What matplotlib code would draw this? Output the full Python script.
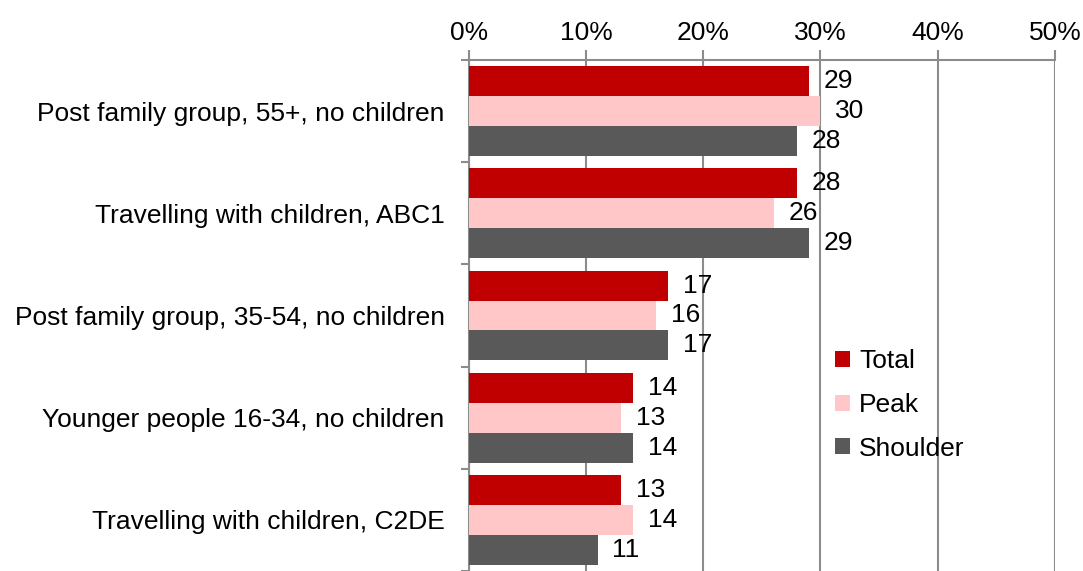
import numpy as np
import matplotlib
matplotlib.use("Agg")
import matplotlib.pyplot as plt
from matplotlib.ticker import PercentFormatter

plt.rcParams['font.family'] = ['Liberation Sans', 'DejaVu Sans']

categories = ["Post family group, 55+, no children",
              "Travelling with children, ABC1",
              "Post family group, 35-54, no children",
              "Younger people 16-34, no children",
              "Travelling with children, C2DE"]
total = [29, 28, 17, 14, 13]
peak = [30, 26, 16, 13, 14]
shoulder = [28, 29, 17, 14, 11]
series_names = ["Total", "Peak", "Shoulder"]
colors = ["#C00000", "#FFC7C7", "#595959"]

fs = 19
fig = plt.figure(figsize=(10.83, 5.71), dpi=100)
ax = fig.add_axes([0.433, 0.0, 0.541, 0.895])

n = len(categories)
y = np.arange(n)
h = 0.293
grid_c = "#8C8C8C"

for k, (vals, name, col) in enumerate(zip([total, peak, shoulder], series_names, colors)):
    pos = y + (k - 1) * h
    ax.barh(pos, vals, height=h, color=col, label=name, zorder=3)
    for p, v in zip(pos, vals):
        ax.text(v + 1.25, p, str(v), va='center', ha='left', fontsize=fs, zorder=4)

ax.set_xlim(0, 50)
ax.set_ylim(n - 0.5, -0.5)
ax.set_xticks(range(0, 51, 10))
ax.xaxis.set_major_formatter(PercentFormatter(decimals=0))
ax.xaxis.tick_top()
ax.grid(axis='x', color=grid_c, linewidth=1.5, zorder=0)

ax.set_yticks(np.arange(-0.5, n, 1.0))
ax.set_yticklabels([])
ax.set_yticks(y, minor=True)
ax.set_yticklabels(categories, minor=True, fontsize=fs)
ax.tick_params(axis='y', which='minor', length=0, pad=17.5)
ax.tick_params(axis='y', which='major', length=6, color=grid_c, width=1.5)
ax.tick_params(axis='x', length=7, color=grid_c, width=1.5, labelsize=fs, pad=4)

for s in ['right', 'bottom']:
    ax.spines[s].set_visible(False)
for s in ['top', 'left']:
    ax.spines[s].set_color(grid_c)
    ax.spines[s].set_linewidth(1.5)

ax.legend(loc='center left', bbox_to_anchor=(0.585, 0.325), frameon=False,
          fontsize=fs, handlelength=0.55, handleheight=0.55, handletextpad=0.35,
          labelspacing=0.75)

fig.savefig("out.png", dpi=100)
